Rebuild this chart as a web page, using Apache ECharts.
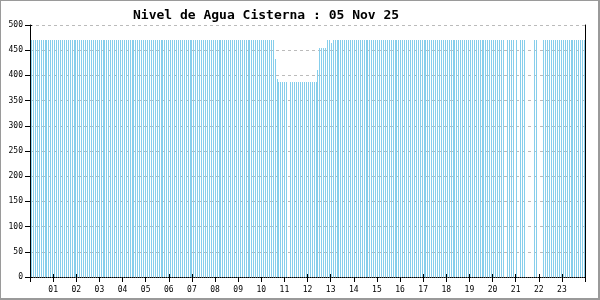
<!DOCTYPE html>
<html><head><meta charset="utf-8">
<script src="https://cdn.jsdelivr.net/npm/echarts@6/dist/echarts.min.js"></script>
<style>
html,body{margin:0;padding:0;background:#fff}
#wrap{position:relative;width:600px;height:300px}
#c{width:600px;height:300px}
#frame{position:absolute;left:0;top:0;width:600px;height:300px;box-sizing:border-box;border:1px solid #9a9a9a;border-right:2px solid #9a9a9a;border-bottom:2px solid #9a9a9a;pointer-events:none}
</style></head><body>
<div id="wrap"><div id="c"></div><div id="frame"></div></div>
<script>
// ---- data ----
const chartTitle = 'Nivel de Agua Cisterna : 05 Nov 25';
const hourLabels = ['01','02','03','04','05','06','07','08','09','10','11','12','13','14','15','16','17','18','19','20','21','22','23'];
const yTickValues = [0,50,100,150,200,250,300,350,400,450,500];
const sampleStepSeconds = 301;          // logger period (about 5 minutes)
const clockOffsetFromIndex = [135, 149]; // reading index where the logger clock jittered
const clockOffsetSeconds   = [52, 10];   // extra delay of readings from that index on
const N = null;
// water level, one reading per logger period, 12 readings per row
const levels = [
 470,470,470,470,470,470,470,470,470,470,470,470, // 00
 470,470,470,470,470,470,470,470,470,470,470,470, // 01
 470,470,470,470,470,470,470,470,470,470,470,470, // 02
 470,470,470,470,470,470,470,470,470,470,470,470, // 03
 470,470,470,470,470,470,470,470,470,470,470,470, // 04
 470,470,470,470,470,470,470,470,470,470,470,470, // 05
 470,470,470,470,470,470,470,470,470,470,470,470, // 06
 470,470,470,470,470,470,470,470,470,470,470,470, // 07
 470,470,470,470,470,470,470,470,470,470,470,470, // 08
 470,470,470,470,470,470,470,470,470,470,470,470, // 09
 470,470,470,470,470,470,470,432,393,387,387,387, // 10
 387,387,N,  387,387,387,387,387,387,387,387,387, // 11
 387,387,387,387,387,411,454,454,454,454,470,470, // 12
 464,470,470,470,470,470,470,470,470,470,470,470, // 13
 470,470,470,470,470,470,470,470,470,470,470,470, // 14
 470,470,470,470,470,470,470,470,470,470,470,470, // 15
 470,470,470,470,470,470,470,470,470,470,470,470, // 16
 470,470,470,470,470,470,470,470,470,470,470,470, // 17
 470,470,470,470,470,470,470,470,470,470,470,470, // 18
 470,470,470,470,470,470,470,470,470,470,470,470, // 19
 470,470,470,470,470,470,N,  470,470,470,470,N,   // 20
 470,N,  470,470,470,N,  N,  N,  N,  470,470,N,   // 21
 N,  N,  470,470,470,470,470,470,470,470,470,470, // 22
 470,470,470,470,470,470,470,470,470,470,470,470  // 23
];
// ---- style ----
const barColour = '#87CEEB';

function clockOffset(k){
  let s = 0;
  clockOffsetFromIndex.forEach((from,i)=>{ if(k>=from) s = clockOffsetSeconds[i]; });
  return s;
}
const seriesData = [];
levels.forEach((v,k)=>{
  if(v===null) return;
  seriesData.push([(k*sampleStepSeconds + clockOffset(k))/3600, v]);
});

const fontFam = '"DejaVu Sans Mono", monospace';
const chart = echarts.init(document.getElementById('c'), null, {renderer:'canvas'});
chart.setOption({
  animation:false,
  backgroundColor:'#fff',
  title:{text:chartTitle, left:128, top:4, textStyle:{fontFamily:fontFam, fontSize:13, fontWeight:'bold', color:'#000'}},
  grid:{left:30, right:15, top:25, bottom:23},
  xAxis:[{
    type:'value', min:0, max:24, interval:1,
    axisLine:{lineStyle:{color:'#000', width:1, type:[1,1]}},
    axisTick:{show:true, length:5, lineStyle:{color:'#000'}},
    axisLabel:{fontFamily:fontFam, fontSize:8, color:'#000', margin:9,
      formatter:v=> (v>=1 && v<=23) ? hourLabels[v-1] : ''},
    splitLine:{show:false}
  },{
    type:'value', min:0, max:24, interval:1, position:'bottom',
    axisLine:{show:false}, axisLabel:{show:false}, splitLine:{show:false},
    axisTick:{show:true, inside:true, length:3, lineStyle:{color:'#000'}}
  }],
  yAxis:[{
    type:'value', min:0, max:500, interval:50,
    axisLine:{show:true, lineStyle:{color:'#000'}},
    axisTick:{show:true, length:5, lineStyle:{color:'#000'}},
    axisLabel:{fontFamily:fontFam, fontSize:8, color:'#000', margin:7},
    splitLine:{show:true, lineStyle:{color:'#BBBBBB', type:[3,3]}}
  },{
    type:'value', min:0, max:500, interval:50, position:'left',
    axisLine:{show:false}, axisLabel:{show:false}, splitLine:{show:false},
    axisTick:{show:true, inside:true, length:2, lineStyle:{color:'#000'}}
  },{
    type:'value', min:0, max:500, interval:50, position:'right',
    axisLine:{show:true, onZero:false, lineStyle:{color:'#000'}},
    axisTick:{show:false}, axisLabel:{show:false}, splitLine:{show:false}
  }],
  series:[{
    type:'custom', xAxisIndex:0, yAxisIndex:0,
    data:seriesData,
    encode:{x:0, y:1},
    renderItem:function(params, api){
      const t = api.value(0), v = api.value(1);
      const top = api.coord([t, v]);
      const base = api.coord([t, 0]);
      const x = Math.floor(top[0] - 0.44);
      if (x < 31) return null;
      const y0 = Math.round(top[1]);
      const y1 = Math.round(base[1]);
      return {type:'rect', shape:{x:x, y:y0, width:1, height:y1-y0}, style:{fill:barColour}};
    }
  }]
});
</script>
</body></html>
